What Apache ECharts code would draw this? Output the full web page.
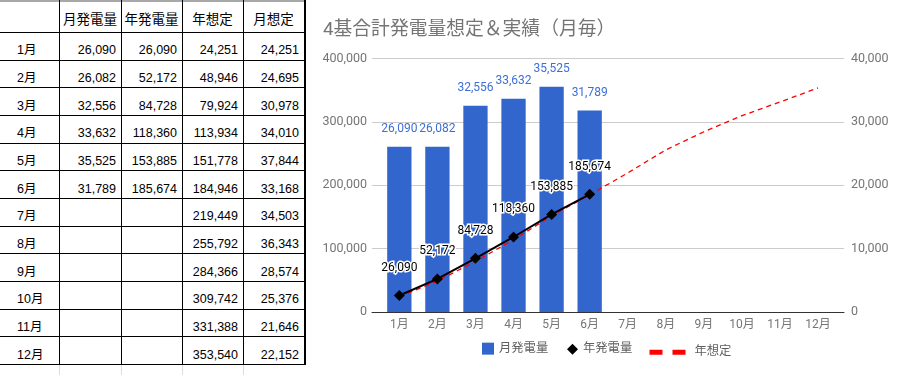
<!DOCTYPE html>
<html><head><meta charset="utf-8">
<script src="https://cdn.jsdelivr.net/npm/echarts@6/dist/echarts.min.js"></script>
<style>
html,body{margin:0;padding:0;background:#fff;width:905px;height:375px;overflow:hidden;position:relative;}
.ln{position:absolute;background:#000;}
.tx{position:absolute;height:14px;line-height:14px;white-space:nowrap;font-family:"Liberation Sans",Arial,"Noto Sans CJK JP",sans-serif;font-size:12.5px;color:#000;}
.hd{font-family:"Noto Sans CJK JP","Liberation Sans",sans-serif;font-size:13.5px;text-align:center;}
#chart{position:absolute;left:306px;top:0;width:599px;height:375px;}
</style></head>
<body>
<div id="sheet"></div>
<div id="chart"></div>
<script>
const months = ['1月','2月','3月','4月','5月','6月','7月','8月','9月','10月','11月','12月'];
const monthActual = [26090, 26082, 32556, 33632, 35525, 31789];
const yearActual = [26090, 52172, 84728, 118360, 153885, 185674];
const yearPlan = [24251, 48946, 79924, 113934, 151778, 184946, 219449, 255792, 284366, 309742, 331388, 353540];
const monthPlan = [24251, 24695, 30978, 34010, 37844, 33168, 34503, 36343, 28574, 25376, 21646, 22152];
const headers = ['', '月発電量', '年発電量', '年想定', '月想定'];
const seriesNames = ['月発電量', '年発電量', '年想定'];
const titleText = '4基合計発電量想定＆実績（月毎）';
const leftAxisMax = 400000, leftAxisStep = 100000;
const rightAxisMax = 40000, rightAxisStep = 10000;

const fmt = v => (v == null ? '' : v.toLocaleString('en-US'));

// ---- spreadsheet table ----
(function(){
  const sheet = document.getElementById('sheet');
  const colX = [0, 59, 121, 182, 243, 304];
  const rowH = 27.67, headH = 32;
  const rowTop = r => r === 0 ? 0 : headH + (r - 1) * rowH;
  const add = (cls, st, txt) => { const d = document.createElement('div'); d.className = cls; Object.assign(d.style, st); if (txt != null) d.textContent = txt; sheet.appendChild(d); };
  add('ln', {left:'0px', top:'0px', width:'905px', height:'2px', background:'#a8a8a8'});
  for (let r = 1; r <= 13; r++) {
    add('ln', {left:'0px', top:Math.round(rowTop(r)) + 'px', width:'304px', height:'1px'});
  }
  const tableBottom = Math.round(rowTop(13));
  [59, 121, 182, 243].forEach(x => {
    add('ln', {left:x + 'px', top:'0px', width:'1px', height:(tableBottom + 1) + 'px'});
    add('ln', {left:x + 'px', top:(tableBottom + 1) + 'px', width:'1px', height:(375 - tableBottom) + 'px', background:'#dcdcdc'});
  });
  add('ln', {left:'304px', top:'0px', width:'2px', height:(tableBottom + 1) + 'px'});
  add('ln', {left:'306px', top:(tableBottom + 1) + 'px', width:'1px', height:(373 - tableBottom - 1) + 'px', background:'#b0b0b0'});
  add('ln', {left:'306px', top:'373px', width:'599px', height:'1px', background:'#a0a0a0'});
  for (let c = 1; c < headers.length; c++) {
    add('tx hd', {left:colX[c] + 'px', width:(colX[c+1] - colX[c]) + 'px', top:'11px'}, headers[c]);
  }
  const cols = [monthActual, yearActual, yearPlan, monthPlan];
  months.forEach((m, i) => {
    const top = rowTop(i + 1) + 11.2;
    add('tx', {left:'17px', top:top + 'px'}, m);
    cols.forEach((arr, c) => {
      add('tx', {left:colX[c+1] + 'px', width:(colX[c+2] - colX[c+1] - 5) + 'px', top:top + 'px', textAlign:'right'}, fmt(arr[i]));
    });
  });
})();

// ---- chart ----
const chart = echarts.init(document.getElementById('chart'), null, {renderer:'canvas'});
const gray = '#757575';
const font = 'Roboto, "Noto Sans CJK JP", sans-serif';
const gridTop = 58.5, gridBottom = 63;
const option = {
  animation: false,
  backgroundColor: '#fff',
  textStyle: {fontFamily: font},
  title: {
    text: titleText, left: 17, top: 21, padding: 0,
    textStyle: {color: gray, fontSize: 18.8, fontWeight: 'normal', fontFamily: font}
  },
  legend: [
    {data:[{name:seriesNames[0], icon:'rect'}], left:176, top:342.5, padding:0, itemWidth:12, itemHeight:12,
     textStyle:{color:'#5f5f5f', fontSize:12.3, fontFamily:font}},
    {data:[{name:seriesNames[1], icon:'diamond'}], left:261, top:343, padding:0, itemWidth:11, itemHeight:11,
     itemStyle:{color:'#000'}, textStyle:{color:'#5f5f5f', fontSize:12.3, fontFamily:font}},
    {data:[{name:seriesNames[2], icon:'path://M0,0h13v5h-13z M23,0h13v5h-13z'}], left:343.5, top:346, padding:0, itemWidth:36, itemHeight:5,
     itemStyle:{color:'#ff0000', borderWidth:0}, textStyle:{color:'#5f5f5f', fontSize:12.3, fontFamily:font, padding:[0,0,0,4]}}
  ],
  grid: [
    {left:66, right:61, top:gridTop, bottom:gridBottom},
    {left:74.3, right:67.9, top:gridTop, bottom:gridBottom}
  ],
  xAxis: [
    {type:'category', gridIndex:0, data:months, z:5,
     axisLine:{show:true, lineStyle:{color:'#333', width:1}}, axisTick:{show:false}, axisLabel:{show:false}, splitLine:{show:false}},
    {type:'category', gridIndex:1, data:months,
     axisLine:{show:false}, axisTick:{show:false},
     axisLabel:{color:gray, fontSize:12, margin:7, fontFamily:font}}
  ],
  yAxis: [
    {type:'value', gridIndex:0, position:'left', min:0, max:leftAxisMax, interval:leftAxisStep,
     axisLine:{show:false}, axisTick:{show:false},
     axisLabel:{color:gray, fontSize:12.5, margin:5, fontFamily:font, formatter:v => fmt(v)},
     splitLine:{show:true, lineStyle:{color:'#cccccc', width:1}}},
    {type:'value', gridIndex:0, position:'right', min:0, max:rightAxisMax, interval:rightAxisStep,
     axisLine:{show:false}, axisTick:{show:false},
     axisLabel:{color:gray, fontSize:12.5, margin:7, fontFamily:font, formatter:v => fmt(v)},
     splitLine:{show:false}},
    {type:'value', gridIndex:1, position:'left', min:0, max:leftAxisMax, interval:leftAxisStep, show:false},
    {type:'value', gridIndex:1, position:'right', min:0, max:rightAxisMax, interval:rightAxisStep, show:false}
  ],
  series: [
    {name:seriesNames[0], type:'bar', xAxisIndex:1, yAxisIndex:3, data:monthActual, barWidth:24.3,
     itemStyle:{color:'#3366cc'},
     label:{show:true, position:'top', distance:11, color:'#3d6fd6', fontSize:12, lineHeight:14, fontFamily:font, formatter:p => fmt(p.value)}},
    {name:seriesNames[2], type:'line', xAxisIndex:1, yAxisIndex:2, data:yearPlan, symbol:'none',
     itemStyle:{color:'#ff0000'},
     lineStyle:{color:'#ff0000', width:1.3, type:[5,4]}},
    {name:seriesNames[1], type:'line', xAxisIndex:1, yAxisIndex:2, data:yearActual, symbol:'diamond', symbolSize:11,
     itemStyle:{color:'#000'}, lineStyle:{color:'#000', width:2}, z:4,
     label:{show:true, position:'top', distance:15, color:'#000', fontSize:12, lineHeight:14, fontFamily:font,
            textBorderColor:'#fff', textBorderWidth:3, formatter:p => fmt(p.value)}}
  ]
};
chart.setOption(option);
</script>
</body></html>
